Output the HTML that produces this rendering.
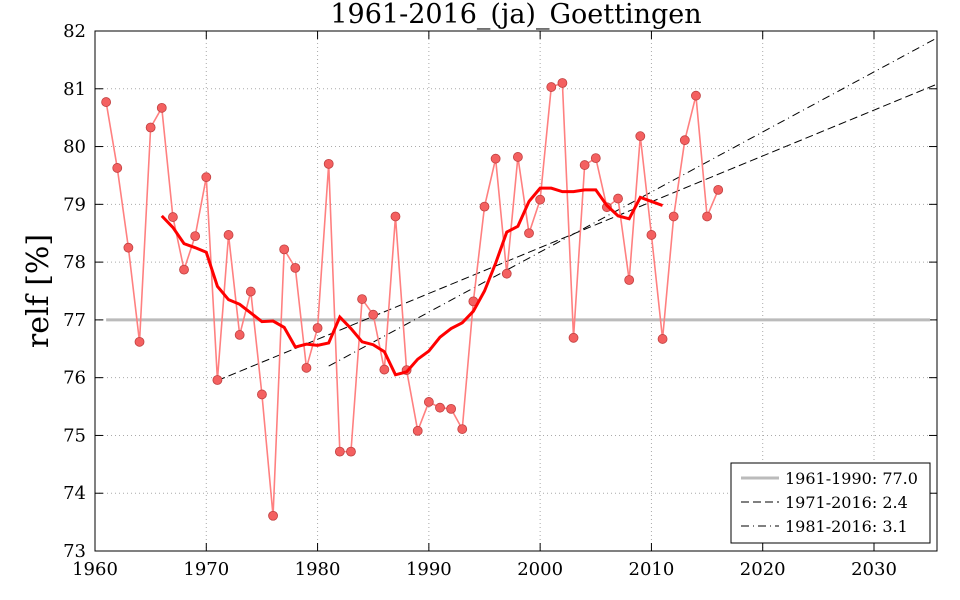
<!DOCTYPE html>
<html><head><meta charset="utf-8"><style>
body{margin:0;background:#fff}
svg{display:block;font-family:"DejaVu Serif","Liberation Serif",serif}
</style></head><body>
<svg id="s" width="960" height="600" xmlns="http://www.w3.org/2000/svg"></svg>
<script>
const X0=95,X1=937,Y0=31,Y1=551;
const px=y=>95+(y-1960)*(779/70);
const py=v=>551-(v-73)*(520/9);
const d={1961:80.77,1962:79.63,1963:78.25,1964:76.62,1965:80.33,1966:80.67,1967:78.78,1968:77.87,1969:78.45,1970:79.47,1971:75.96,1972:78.47,1973:76.74,1974:77.49,1975:75.71,1976:73.61,1977:78.22,1978:77.9,1979:76.17,1980:76.86,1981:79.7,1982:74.72,1983:74.72,1984:77.36,1985:77.09,1986:76.14,1987:78.79,1988:76.13,1989:75.08,1990:75.58,1991:75.48,1992:75.46,1993:75.11,1994:77.32,1995:78.96,1996:79.79,1997:77.8,1998:79.82,1999:78.5,2000:79.08,2001:81.03,2002:81.1,2003:76.69,2004:79.68,2005:79.8,2006:78.95,2007:79.1,2008:77.69,2009:80.18,2010:78.47,2011:76.67,2012:78.79,2013:80.11,2014:80.88,2015:78.79,2016:79.25};
const m=[78.8,78.6,78.32,78.25,78.17,77.58,77.35,77.27,77.12,76.97,76.98,76.87,76.53,76.58,76.56,76.6,77.05,76.85,76.62,76.57,76.45,76.05,76.1,76.32,76.46,76.7,76.85,76.95,77.15,77.5,77.98,78.52,78.62,79.05,79.28,79.28,79.22,79.22,79.25,79.25,78.98,78.8,78.75,79.12,79.05,78.98];
let s='';
for(let y=1970;y<=2030;y+=10)s+=`<line x1="${px(y)}" y1="${Y0}" x2="${px(y)}" y2="${Y1}" stroke="#aaa" stroke-dasharray="1,3"/>`;
for(let v=74;v<=81;v++)s+=`<line x1="${X0}" y1="${py(v)}" x2="${X1}" y2="${py(v)}" stroke="#aaa" stroke-dasharray="1,3"/>`;
for(let y=1960;y<=2030;y+=10){s+=`<line x1="${px(y)}" y1="${Y1}" x2="${px(y)}" y2="${Y1-8}" stroke="#000"/><line x1="${px(y)}" y1="${Y0}" x2="${px(y)}" y2="${Y0+8}" stroke="#000"/><text x="${px(y)}" y="575" font-size="18" text-anchor="middle">${y}</text>`;}
for(let v=73;v<=82;v++){s+=`<line x1="${X0}" y1="${py(v)}" x2="${X0+8}" y2="${py(v)}" stroke="#000"/><line x1="${X1}" y1="${py(v)}" x2="${X1-8}" y2="${py(v)}" stroke="#000"/><text x="86" y="${py(v)+6}" font-size="18" text-anchor="end">${v}</text>`;}
s+=`<line x1="${px(1961)}" y1="${py(77)}" x2="930" y2="${py(77)}" stroke="#bbb" stroke-width="3"/>`;
s+=`<line x1="${px(1971)}" y1="${py(75.95)}" x2="${X1}" y2="${py(81.08)}" stroke="#000" stroke-dasharray="8,4"/>`;
s+=`<line x1="${px(1981)}" y1="${py(76.2)}" x2="${X1}" y2="${py(81.88)}" stroke="#000" stroke-dasharray="8,4,1,4"/>`;
let p=[];for(let y=1961;y<=2016;y++)p.push(px(y)+','+py(d[y]));
s+=`<polyline points="${p.join(' ')}" fill="none" stroke="#ff8080" stroke-width="1.6"/>`;
for(let y=1961;y<=2016;y++)s+=`<circle cx="${px(y)}" cy="${py(d[y])}" r="4.5" fill="#f46060" stroke="#c04040" stroke-width="0.8"/>`;
p=m.map((v,i)=>px(1966+i)+','+py(v));
s+=`<polyline points="${p.join(' ')}" fill="none" stroke="#f00" stroke-width="3"/>`;
s+=`<rect x="${X0}" y="${Y0}" width="${X1-X0}" height="${Y1-Y0}" fill="none" stroke="#000"/>`;
s+=`<text x="516" y="23" font-size="27" text-anchor="middle">1961-2016_(ja)_Goettingen</text>`;
s+=`<text transform="translate(48,291) rotate(-90)" font-size="30" text-anchor="middle">relf [%]</text>`;
s+=`<rect x="731" y="463" width="199" height="80" fill="#fff" stroke="#000"/>`;
s+=`<line x1="741" y1="478" x2="779" y2="478" stroke="#bbb" stroke-width="3"/><text x="785" y="484" font-size="16">1961-1990: 77.0</text>`;
s+=`<line x1="741" y1="502" x2="779" y2="502" stroke="#000" stroke-dasharray="8,4"/><text x="785" y="508" font-size="16">1971-2016: 2.4</text>`;
s+=`<line x1="741" y1="526" x2="779" y2="526" stroke="#000" stroke-dasharray="8,4,1,4"/><text x="785" y="532" font-size="16">1981-2016: 3.1</text>`;
document.getElementById('s').innerHTML=s;
</script>
</body></html>
